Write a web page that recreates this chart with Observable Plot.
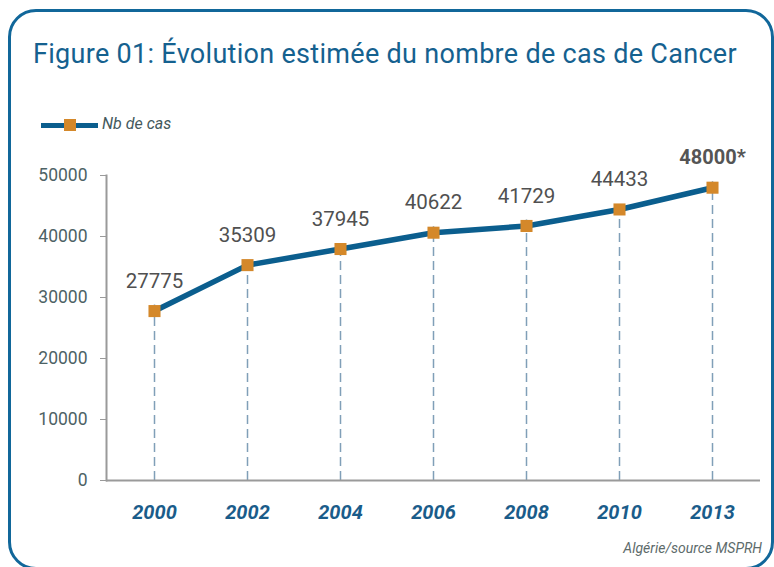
<!DOCTYPE html>
<html>
<head>
<meta charset="utf-8">
<script src="https://cdn.jsdelivr.net/npm/d3@7"></script>
<script src="https://cdn.jsdelivr.net/npm/@observablehq/plot@0.6"></script>
<style>
  html, body { margin: 0; padding: 0; background: #fff; }
  body { width: 774px; height: 567px; position: relative; overflow: hidden; font-family: Roboto, "DejaVu Sans", sans-serif; }
  #frame { position: absolute; left: 8px; top: 9px; width: 760px; height: 555px; border: 3px solid #11679a; border-radius: 28px; }
  #title { position: absolute; left: 33px; top: 38px; font-size: 27px; letter-spacing: 0.3px; color: #15618f; white-space: nowrap; }
  #legend { position: absolute; left: 41px; top: 114px; height: 22px; }
  #legend .ln { position: absolute; left: 0; top: 9px; width: 57px; height: 5px; background: #0b5e8e; }
  #legend .sq { position: absolute; left: 23px; top: 5px; width: 12px; height: 12px; background: #d4882a; }
  #legend .tx { position: absolute; left: 61px; top: 0; font-style: italic; font-size: 16px; color: #44595c; white-space: nowrap; }
  #caption { position: absolute; right: 12px; top: 540px; font-style: italic; font-size: 14px; color: #5d6b6b; white-space: nowrap; }
  #chart { position: absolute; left: 0; top: 0; }
</style>
</head>
<body>
<div id="frame"></div>
<div id="chart"></div>
<div id="title">Figure 01: Évolution estimée du nombre de cas de Cancer</div>
<div id="legend"><div class="ln"></div><div class="sq"></div><div class="tx">Nb de cas</div></div>
<div id="caption">Algérie/source MSPRH</div>
<script>
const years = ["2000", "2002", "2004", "2006", "2008", "2010", "2013"];
const cases = [27775, 35309, 37945, 40622, 41729, 44433, 48000];
const valueLabels = ["27775", "35309", "37945", "40622", "41729", "44433", "48000*"];
const boldLabel = [false, false, false, false, false, false, true];
const yTicks = [0, 10000, 20000, 30000, 40000, 50000];

const data = years.map((y, i) => ({year: y, cases: cases[i], label: valueLabels[i], bold: boldLabel[i]}));

const chart = Plot.plot({
  width: 774,
  height: 567,
  marginLeft: 106,
  marginRight: 14,
  marginTop: 175,
  marginBottom: 87,
  style: {fontFamily: "Roboto, 'DejaVu Sans', sans-serif", background: "transparent"},
  x: {type: "point", domain: years, padding: 0.5, label: null},
  y: {domain: [0, 50000], label: null},
  marks: [
    Plot.ruleX(data, {x: "year", y1: 0, y2: "cases", insetBottom: 6, stroke: "#809fb8", strokeWidth: 1.5, strokeDasharray: "9,5"}),
    Plot.frame({anchor: "left", stroke: "#9a9a9a", strokeWidth: 2}),
    Plot.ruleY([0], {stroke: "#9a9a9a", strokeWidth: 2}),
    Plot.axisY({ticks: yTicks, tickSize: 6, tickPadding: 13, stroke: "#9a9a9a", fill: "#4d6265", fontSize: 17.5, label: null, tickFormat: d => String(d)}),
    Plot.axisX({tickSize: 0, tickPadding: 24, fill: "#1a5c8a", fontSize: 20, fontWeight: "bold", fontStyle: "italic", label: null}),
    Plot.line(data, {x: "year", y: "cases", stroke: "#0b5e8e", strokeWidth: 5.5}),
    Plot.dot(data, {x: "year", y: "cases", symbol: "square", r: 6.8, fill: "#d4882a", stroke: "none"}),
    Plot.text(data.filter(d => !d.bold), {x: "year", y: "cases", text: "label", dy: -30, fontSize: 20.5, fill: "#505050"}),
    Plot.text(data.filter(d => d.bold), {x: "year", y: "cases", text: "label", dy: -30, fontSize: 20, fontWeight: "bold", fill: "#555555"})
  ]
});
document.getElementById("chart").appendChild(chart);
</script>
</body>
</html>
